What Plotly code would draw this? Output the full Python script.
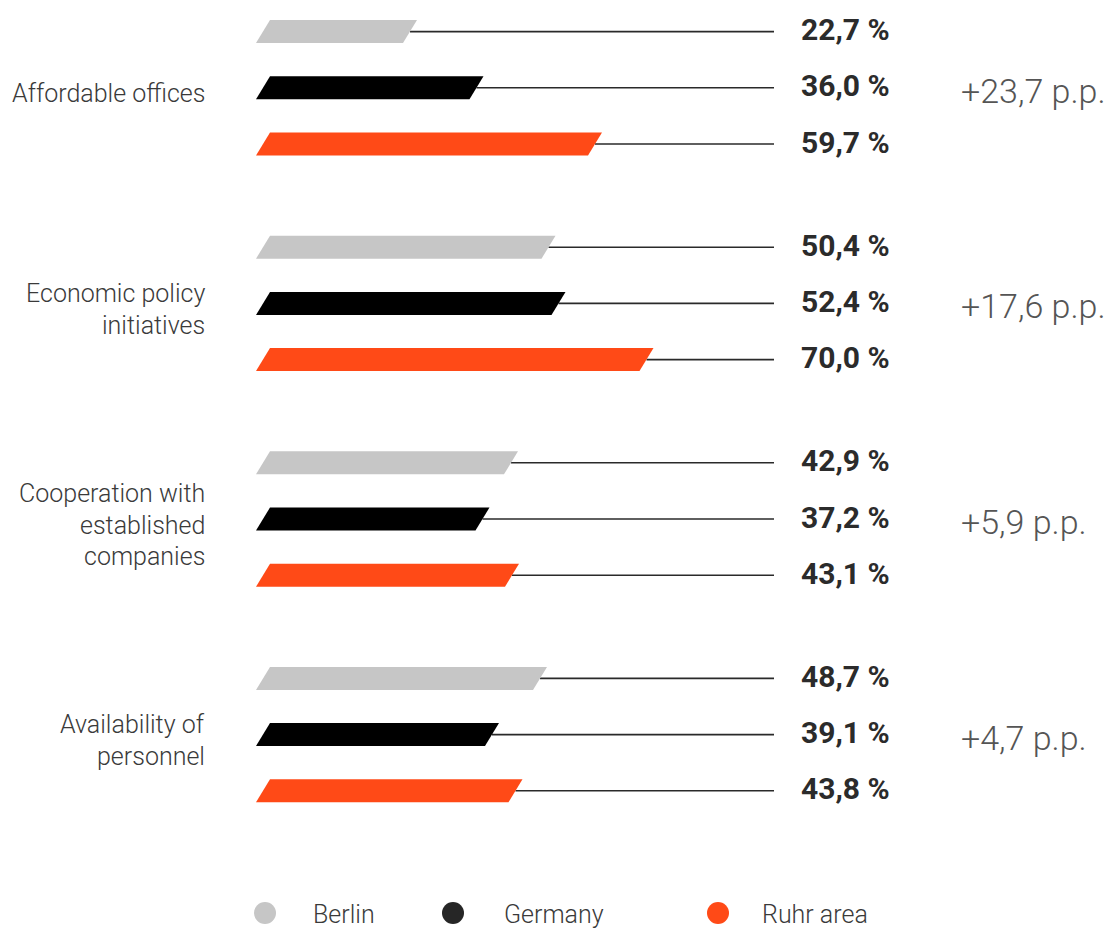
import plotly.graph_objects as go

categories = [
    ["Affordable offices"],
    ["Economic policy", "initiatives"],
    ["Cooperation with", "established", "companies"],
    ["Availability of", "personnel"],
]
series_names = ["Berlin", "Germany", "Ruhr area"]
berlin = [22.7, 50.4, 42.9, 48.7]
germany = [36.0, 52.4, 37.2, 39.1]
ruhr = [59.7, 70.0, 43.1, 43.8]
diff_labels = ["+23,7 p.p.", "+17,6 p.p.", "+5,9 p.p.", "+4,7 p.p."]

series = [berlin, germany, ruhr]
colors = ["#c6c6c6", "#000000", "#ff4a17"]
legend_colors = ["#c6c6c6", "#262626", "#ff4a17"]

W, H = 1113, 928
X0_PX = 296.5          # pixel of value 0
PX_PER_UNIT = 5.0
GROUP_STEP = 215.6
BAR_STEP = 56.2
TOP = 31.6
HALF_H = 11.5
SLANT = 2.8            # in value units (14 px)
BAR_BASE = -6.7
LINE_END = (774 - X0_PX) / PX_PER_UNIT
VALUE_X = (799 - X0_PX) / PX_PER_UNIT
DIFF_X = (959 - X0_PX) / PX_PER_UNIT
CAT_X = (207 - X0_PX) / PX_PER_UNIT

def fmt(v):
    return f"{v:.1f}".replace(".", ",") + " %"

fig = go.Figure()

for g in range(len(categories)):
    for j, vals in enumerate(series):
        v = vals[g]
        yc = TOP + g * GROUP_STEP + j * BAR_STEP
        fig.add_trace(go.Scatter(
            x=[v, LINE_END], y=[yc, yc], mode="lines",
            line=dict(color="#2a2a2a", width=1.6),
            hoverinfo="skip", showlegend=False))
        xs = [BAR_BASE - SLANT / 2, BAR_BASE + SLANT / 2, v + SLANT / 2, v - SLANT / 2, BAR_BASE - SLANT / 2]
        ys = [yc + HALF_H, yc - HALF_H, yc - HALF_H, yc + HALF_H, yc + HALF_H]
        fig.add_trace(go.Scatter(
            x=xs, y=ys, mode="lines", fill="toself",
            fillcolor=colors[j], line=dict(width=0, color=colors[j]),
            hoverinfo="skip", showlegend=False))
        fig.add_annotation(
            x=VALUE_X, y=yc, text=fmt(v), showarrow=False,
            xanchor="left", yanchor="middle", yshift=2,
            font=dict(family="Roboto", size=30, color="#2b2b2b", weight=700))
    ymid = TOP + g * GROUP_STEP + BAR_STEP
    fig.add_annotation(
        x=DIFF_X, y=ymid, text=diff_labels[g], showarrow=False,
        xanchor="left", yanchor="middle", yshift=-3,
        font=dict(family="Roboto", size=34, color="#555555", weight=300))
    lines = categories[g]
    n = len(lines)
    for k, t in enumerate(lines):
        fig.add_annotation(
            x=CAT_X, y=ymid + 6 + (k - (n - 1) / 2) * 31.5, text=t, showarrow=False,
            xanchor="right", yanchor="middle",
            font=dict(family="Roboto", size=25, color="#3a3a3a", weight=300))

legend_dot_px = [265, 453, 718]
legend_text_px = [311, 502, 760]
LEGEND_Y = 913
for i, name in enumerate(series_names):
    fig.add_trace(go.Scatter(
        x=[(legend_dot_px[i] - X0_PX) / PX_PER_UNIT], y=[LEGEND_Y], mode="markers",
        marker=dict(size=22, color=legend_colors[i]),
        hoverinfo="skip", showlegend=False))
    fig.add_annotation(
        x=(legend_text_px[i] - X0_PX) / PX_PER_UNIT, y=LEGEND_Y + 1, text=name, showarrow=False,
        xanchor="left", yanchor="middle",
        font=dict(family="Roboto", size=25, color="#3a3a3a", weight=300))

fig.update_layout(
    width=W, height=H, autosize=False,
    margin=dict(l=0, r=0, t=0, b=0),
    paper_bgcolor="white", plot_bgcolor="white",
    xaxis=dict(range=[-X0_PX / PX_PER_UNIT, (W - X0_PX) / PX_PER_UNIT], visible=False, fixedrange=True),
    yaxis=dict(range=[H, 0], visible=False, fixedrange=True),
    showlegend=False,
)

fig.write_html("out.html", config={"displayModeBar": False},
               post_script="document.body.style.margin='0';")
